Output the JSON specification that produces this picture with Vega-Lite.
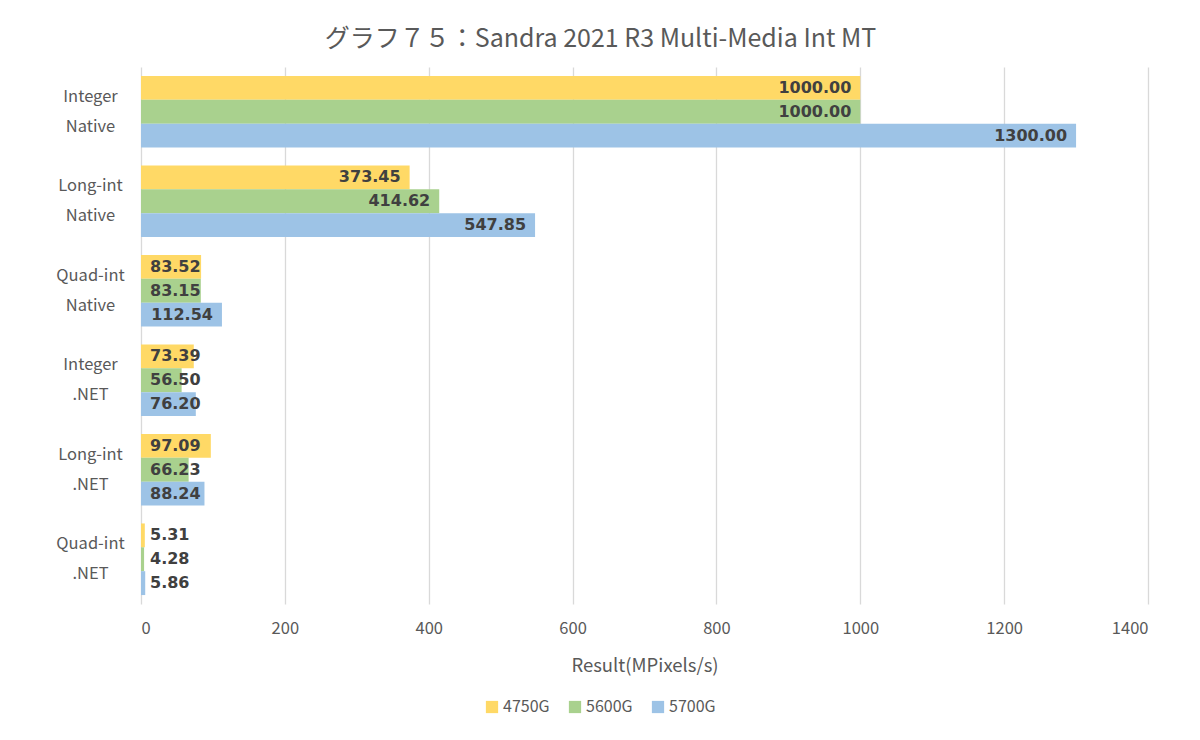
{
  "$schema": "https://vega.github.io/schema/vega-lite/v6.json",
  "width": 1007,
  "height": 537,
  "autosize": "none",
  "padding": {"left": 141, "top": 67, "right": 52, "bottom": 136},
  "background": "white",
  "title": {
    "text": "グラフ７５：Sandra 2021 R3 Multi-Media Int MT",
    "font": "Noto Sans CJK JP",
    "fontSize": 25,
    "fontWeight": "normal",
    "color": "#595959",
    "anchor": "middle",
    "dx": -44,
    "offset": 15
  },
  "data": {
    "values": [
      {"cat": "Integer Native", "cpu": "4750G", "v": 1000.00},
      {"cat": "Integer Native", "cpu": "5600G", "v": 1000.00},
      {"cat": "Integer Native", "cpu": "5700G", "v": 1300.00},
      {"cat": "Long-int Native", "cpu": "4750G", "v": 373.45},
      {"cat": "Long-int Native", "cpu": "5600G", "v": 414.62},
      {"cat": "Long-int Native", "cpu": "5700G", "v": 547.85},
      {"cat": "Quad-int Native", "cpu": "4750G", "v": 83.52},
      {"cat": "Quad-int Native", "cpu": "5600G", "v": 83.15},
      {"cat": "Quad-int Native", "cpu": "5700G", "v": 112.54},
      {"cat": "Integer .NET", "cpu": "4750G", "v": 73.39},
      {"cat": "Integer .NET", "cpu": "5600G", "v": 56.50},
      {"cat": "Integer .NET", "cpu": "5700G", "v": 76.20},
      {"cat": "Long-int .NET", "cpu": "4750G", "v": 97.09},
      {"cat": "Long-int .NET", "cpu": "5600G", "v": 66.23},
      {"cat": "Long-int .NET", "cpu": "5700G", "v": 88.24},
      {"cat": "Quad-int .NET", "cpu": "4750G", "v": 5.31},
      {"cat": "Quad-int .NET", "cpu": "5600G", "v": 4.28},
      {"cat": "Quad-int .NET", "cpu": "5700G", "v": 5.86}
    ]
  },
  "encoding": {
    "y": {
      "field": "cat",
      "type": "nominal",
      "sort": null,
      "scale": {"paddingInner": 0.2, "paddingOuter": 0.1},
      "axis": {
        "title": null,
        "domain": false,
        "ticks": false,
        "labelExpr": "split(datum.value, ' ')",
        "labelAlign": "center",
        "labelBaseline": "middle",
        "labelPadding": 51,
        "labelOffset": -15,
        "labelLineHeight": 30,
        "labelFont": "Noto Sans CJK JP",
        "labelFontSize": 16.5,
        "labelColor": "#595959"
      }
    },
    "yOffset": {"field": "cpu", "type": "nominal", "sort": ["4750G", "5600G", "5700G"]}
  },
  "layer": [
    {
      "mark": {"type": "bar"},
      "encoding": {
        "x": {
          "field": "v",
          "type": "quantitative",
          "scale": {"domain": [0, 1400]},
          "axis": {
            "values": [0, 200, 400, 600, 800, 1000, 1200, 1400],
            "format": "d",
            "title": "Result(MPixels/s)",
            "titleFont": "Noto Sans CJK JP",
            "titleFontSize": 18.5,
            "titleFontWeight": "normal",
            "titleColor": "#595959",
            "titlePadding": 20,
            "domain": false,
            "ticks": false,
            "grid": true,
            "gridColor": "#d9d9d9",
            "gridWidth": 1.3,
            "labelFont": "Noto Sans CJK JP",
            "labelFontSize": 16.5,
            "labelColor": "#595959",
            "labelPadding": 16
          }
        },
        "color": {
          "field": "cpu",
          "type": "nominal",
          "sort": ["4750G", "5600G", "5700G"],
          "scale": {"range": ["#FFD966", "#A9D18E", "#9DC3E6"]},
          "legend": {
            "title": null,
            "orient": "none",
            "direction": "horizontal",
            "legendX": 343,
            "legendY": 632,
            "symbolType": "square",
            "symbolSize": 150,
            "symbolStrokeWidth": 0,
            "labelFont": "Noto Sans CJK JP",
            "labelFontSize": 16,
            "labelColor": "#595959",
            "labelOffset": 3,
            "columnPadding": 17
          }
        }
      }
    },
    {
      "transform": [{"filter": "datum.v >= 100"}],
      "mark": {"type": "text", "align": "right", "baseline": "middle", "dx": -9, "font": "DejaVu Sans", "fontWeight": "bold", "fontSize": 16, "color": "#404040"},
      "encoding": {
        "x": {"field": "v", "type": "quantitative"},
        "text": {"field": "v", "type": "quantitative", "format": ".2f"}
      }
    },
    {
      "transform": [{"filter": "datum.v < 100"}],
      "mark": {"type": "text", "align": "left", "baseline": "middle", "dx": 9, "font": "DejaVu Sans", "fontWeight": "bold", "fontSize": 16, "color": "#404040"},
      "encoding": {
        "x": {"datum": 0, "type": "quantitative"},
        "text": {"field": "v", "type": "quantitative", "format": ".2f"}
      }
    }
  ],
  "config": {
    "view": {"stroke": null}
  }
}
